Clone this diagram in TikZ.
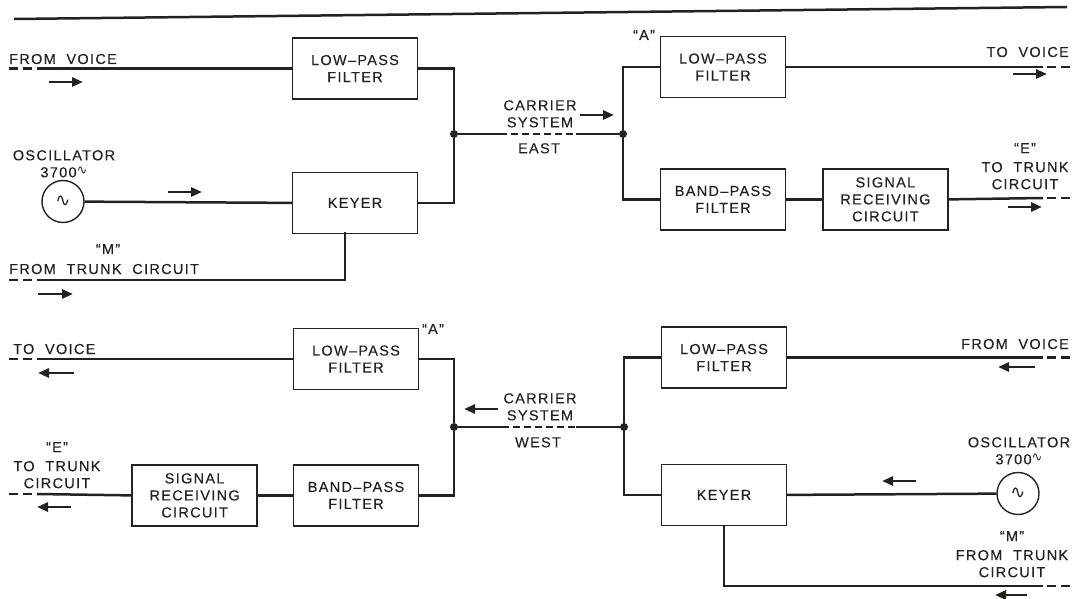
\documentclass[tikz,border=0pt]{standalone}
\usepackage{fontspec}
\setmainfont{Liberation Sans}[LetterSpace=9,WordSpace=2,FakeBold=0.25]
\newfontfamily\symfont{DejaVu Sans}
\usetikzlibrary{positioning,arrows.meta}
\definecolor{ink}{RGB}{34,34,30}
\newcommand\sinewave{\raisebox{2.5pt}{\fontsize{13}{13}\symfont ∿}}

\begin{document}
\begin{tikzpicture}[
    x=1pt, y=-1pt,
    color=ink,
    font=\fontsize{14.5}{17}\selectfont,
    node distance=72pt,
    box/.style={
        draw,
        line width=1.4pt,
        minimum width=125pt,
        minimum height=61pt,
        inner sep=2pt,
        align=center
    },
    osc/.style={
        draw,
        circle,
        line width=1.4pt,
        minimum size=42pt,
        inner sep=0pt,
        font=\fontsize{18}{18}\selectfont\symfont
    },
    note/.style={
        inner sep=0pt,
        align=center
    },
    dot/.style={
        circle,
        fill,
        inner sep=0pt,
        minimum size=8pt
    },
    wire/.style={
        line width=2.5pt
    },
    stub/.style={
        line width=2.8pt,
        dash pattern=on 9pt off 5pt
    },
    carrier/.style={
        line width=2.6pt,
        dash pattern=on 7pt off 4pt
    },
    flow/.style={
        -{Triangle[length=11pt,width=9pt]},
        line width=2.8pt
    }
]
\useasboundingbox (0,0) rectangle (1075,599);

\draw[wire] (14,19) -- (1067,7);

% east direction
\node[box] (lpfA) at (355,68.5) {LOW–PASS\\FILTER};
\node[box, below=72pt of lpfA] (keyA) {KEYER};
\node[osc] (oscA) at (63,201.5) {∿};
\node[dot] (jA) at (454,134) {};

\node[box] (lpfB) at (723,67) {LOW–PASS\\FILTER};
\node[box, below=70pt of lpfB] (bpfB) {BAND–PASS\\FILTER};
\node[box, right=36pt of bpfB] (srcB) {SIGNAL\\RECEIVING\\CIRCUIT};
\node[dot] (jB) at (623,134) {};

\node[note, anchor=base west] (fromVoiceA) at (9,64) {FROM VOICE};
\node[note, anchor=north] (oscTextA) at (64,150) {OSCILLATOR\\3700\sinewave};
\node[note] (mA) at (108,249) {“M”};
\node[note, anchor=base west] (fromTrunkA) at (9,274) {FROM TRUNK CIRCUIT};
\node[note, anchor=north] (carrierA) at (540,100) {CARRIER\\SYSTEM};
\node[note, anchor=north] (eastA) at (539,143) {EAST};
\node[note] (aB) at (644,35) {“A”};
\node[note, anchor=base east] (toVoiceB) at (1069,57) {TO VOICE};
\node[note, anchor=north] (eB) at (1025,143) {“E”\\[2pt]TO TRUNK\\CIRCUIT};

\coordinate (endVoiceA) at (9,68.5);
\coordinate (inVoiceA) at (37,68.5);
\coordinate (endTrunkA) at (9,280);
\coordinate (inTrunkA) at (37,280);
\coordinate (keyTapA) at (345,232);
\coordinate (eastL) at (500,134);
\coordinate (eastR) at (576,134);
\coordinate (outVoiceB) at (1043,67);
\coordinate (endVoiceB) at (1070,67);
\coordinate (outTrunkB) at (1043,198);
\coordinate (endTrunkB) at (1070,198);

\draw[stub] (endVoiceA) -- (inVoiceA);
\draw[wire] (inVoiceA) -- (lpfA.west);
\draw[wire] (oscA) -- (keyA.west);
\draw[stub] (endTrunkA) -- (inTrunkA);
\draw[wire] (inTrunkA) -| (keyTapA);
\draw[wire] (lpfA.east) -| (jA) |- (keyA.east);
\draw[wire] (jA) -- (eastL);
\draw[carrier] (eastL) -- (eastR);
\draw[wire] (eastR) -- (jB);
\draw[wire] (lpfB.west) -| (jB) |- (bpfB.west);
\draw[wire] (lpfB.east) -- (outVoiceB);
\draw[stub] (endVoiceB) -- (outVoiceB);
\draw[wire] (bpfB) -- (srcB);
\draw[wire] (srcB.east) -- (outTrunkB);
\draw[stub] (endTrunkB) -- (outTrunkB);

\draw[flow] (49,82) -- (83,82);
\draw[flow] (168,192) -- (202,192);
\draw[flow] (38,294) -- (73,294);
\draw[flow] (580,115) -- (614,115);
\draw[flow] (1013,74) -- (1047,74);
\draw[flow] (1008,207) -- (1042,207);

% west direction
\node[box] (lpfC) at (356,359) {LOW–PASS\\FILTER};
\node[box, below=74pt of lpfC] (bpfC) {BAND–PASS\\FILTER};
\node[box, left=35pt of bpfC] (srcC) {SIGNAL\\RECEIVING\\CIRCUIT};
\node[dot] (jC) at (454,427) {};

\node[box] (lpfD) at (724,357.5) {LOW–PASS\\FILTER};
\node[box, below=75pt of lpfD] (keyD) {KEYER};
\node[osc] (oscD) at (1018,493.5) {∿};
\node[dot] (jD) at (624,427) {};

\node[note, anchor=base west] (toVoiceC) at (13,354) {TO VOICE};
\node[note] (aC) at (433,329) {“A”};
\node[note, anchor=north] (carrierC) at (540,393) {CARRIER\\SYSTEM};
\node[note, anchor=north] (westC) at (538,437) {WEST};
\node[note, anchor=north] (eC) at (57,442) {“E”\\[2pt]TO TRUNK\\CIRCUIT};
\node[note, anchor=base east] (fromVoiceD) at (1069,349) {FROM VOICE};
\node[note, anchor=north] (oscTextD) at (1019,437) {OSCILLATOR\\3700\sinewave};
\node[note, anchor=north] (mD) at (1012,531) {“M”\\[2pt]FROM TRUNK\\CIRCUIT};

\coordinate (outVoiceC) at (37,359);
\coordinate (endVoiceC) at (9,359);
\coordinate (outTrunkC) at (37,494);
\coordinate (endTrunkC) at (9,494);
\coordinate (westL) at (502,427);
\coordinate (westR) at (576,427);
\coordinate (inVoiceD) at (1043,357.5);
\coordinate (endVoiceD) at (1070,357.5);
\coordinate (inTrunkD) at (1043,586);
\coordinate (endTrunkD) at (1070,586);

\draw[wire] (lpfC.west) -- (outVoiceC);
\draw[stub] (endVoiceC) -- (outVoiceC);
\draw[wire] (lpfC.east) -| (jC) |- (bpfC.east);
\draw[wire] (bpfC) -- (srcC);
\draw[wire] (srcC.west) -- (outTrunkC);
\draw[stub] (endTrunkC) -- (outTrunkC);
\draw[wire] (jC) -- (westL);
\draw[carrier] (westL) -- (westR);
\draw[wire] (westR) -- (jD);
\draw[wire] (lpfD.west) -| (jD) |- (keyD.west);
\draw[wire] (lpfD.east) -- (inVoiceD);
\draw[stub] (endVoiceD) -- (inVoiceD);
\draw[wire] (oscD) -- (keyD.east);
\draw[wire] (keyD.south) |- (inTrunkD);
\draw[stub] (endTrunkD) -- (inTrunkD);

\draw[flow] (74,373) -- (38,373);
\draw[flow] (498,409) -- (464,409);
\draw[flow] (71,507) -- (37,507);
\draw[flow] (1035,367) -- (998,367);
\draw[flow] (916,481) -- (882,481);
\draw[flow] (1027,595) -- (995,595);

\end{tikzpicture}
\end{document}
